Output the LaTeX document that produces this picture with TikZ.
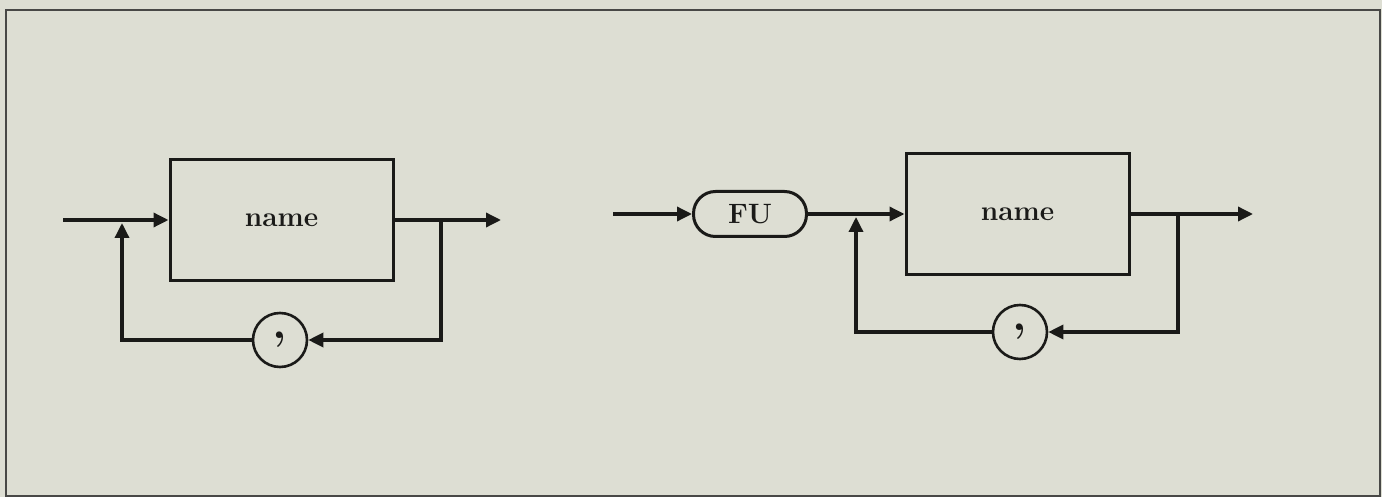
\documentclass[tikz,border=0pt]{standalone}
\usepackage{tikz}
\usetikzlibrary{arrows.meta,positioning,calc}
\definecolor{paper}{RGB}{221,222,211}
\definecolor{ink}{HTML}{1A1A18}

\begin{document}
\begin{tikzpicture}[x=1pt,y=-1pt,font=\fontsize{28}{30}\selectfont\bfseries,
  >={Triangle[length=15pt,width=14pt]},
  wire/.style={draw=ink,line width=3.4pt},
  namebox/.style={draw=ink,line width=3pt,minimum width=223pt,minimum height=121pt,
                  inner sep=0pt,text=ink},
  token/.style={draw=ink,line width=3pt,rounded corners=22pt,minimum width=113pt,
                minimum height=45pt,inner sep=0pt,text=ink},
  sep/.style={draw=ink,circle,line width=2.6pt,minimum size=54pt,inner sep=0pt,text=ink,
              font=\fontsize{46}{46}\selectfont\bfseries}]

\fill[paper] (0,0) rectangle (1382,497);
\useasboundingbox (0,0) rectangle (1382,497);
\draw[draw=ink!80,line width=2pt] (6,10) rectangle (1380,496);

% left diagram
\coordinate (inL) at (63,220);
\coordinate (mergeL) at (122,220);
\node[namebox] (nameL) at (281.5,220) {name};
\coordinate (splitL) at (441,220);
\coordinate (outL) at (501,220);
\node[sep] (commaL) at (280,340) {\raisebox{8pt}{,}};

% right diagram
\coordinate (inR) at (613,214);
\node[token] (fu) at (750,214) {FU};
\coordinate (mergeR) at (856,214);
\node[namebox] (nameR) at (1017.5,214) {name};
\coordinate (splitR) at (1178,214);
\coordinate (outR) at (1253,214);
\node[sep] (commaR) at (1020,332) {\raisebox{8pt}{,}};

\foreach \a/\b in {inL/nameL,nameL/outL,inR/fu,fu/nameR,nameR/outR}
  \draw[wire,->] (\a) -- (\b);

\foreach \s/\c/\m in {splitL/commaL/mergeL,splitR/commaR/mergeR}{
  \draw[wire,->] (\s) |- (\c);
  \draw[wire,->,shorten >=3pt] (\c) -| (\m);
}
\end{tikzpicture}
\end{document}
